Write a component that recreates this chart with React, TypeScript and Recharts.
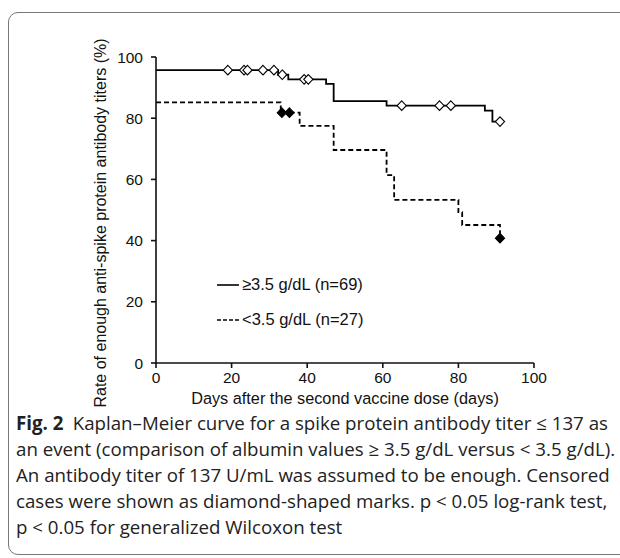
import React from 'react';
import { ComposedChart, Line, Scatter, XAxis, YAxis } from 'recharts';

// Kaplan–Meier step points (day, % with enough titer)
const highDays = [0, 32.3, 35, 45, 47, 61, 87, 89, 91];
const highRates = [95.7, 94.2, 92.7, 91.2, 85.6, 84.1, 82.5, 78.9, 78.9];
const lowDays = [0, 33, 38, 47, 61, 63, 80, 81, 91];
const lowRates = [85.2, 81.8, 77.5, 69.6, 61.4, 53.3, 49.3, 45.1, 40.8];

// censored cases (diamonds)
const highCensorDays = [19, 23.3, 24.2, 28.3, 31.2, 33.4, 39.2, 40.3, 65, 75, 78, 91];
const highCensorRates = [95.7, 95.7, 95.7, 95.7, 95.7, 94.2, 92.7, 92.7, 84.1, 84.1, 84.1, 78.9];
const lowCensorDays = [33.3, 35.3, 91];
const lowCensorRates = [81.8, 81.8, 40.8];

const xTicks = [0, 20, 40, 60, 80, 100];
const yTicks = [0, 20, 40, 60, 80, 100];
const legendLabels = ['\u22653.5 g/dL (n=69)', '<3.5 g/dL (n=27)'];
const xTitle = 'Days after the second vaccine dose (days)';
const yTitle = 'Rate of enough anti-spike protein antibody titers (%)';
const captionLines = [
  ['Fig. 2', '\u2002Kaplan\u2013Meier curve for a spike protein antibody titer \u2264 137 as'],
  ['', 'an event (comparison of albumin values \u2265 3.5 g/dL versus < 3.5 g/dL).'],
  ['', 'An antibody titer of 137 U/mL was assumed to be enough. Censored'],
  ['', 'cases were shown as diamond-shaped marks. p < 0.05 log-rank test,'],
  ['', 'p < 0.05 for generalized Wilcoxon test'],
];

const toRows = (d: number[], v: number[]) => d.map((day, i) => ({ day, v: v[i] }));
const highData = toRows(highDays, highRates);
const lowData = toRows(lowDays, lowRates);
const highCensor = toRows(highCensorDays, highCensorRates);
const lowCensor = toRows(lowCensorDays, lowCensorRates);

const FONT = '"Liberation Sans", Arial, sans-serif';

const Diamond = (filled: boolean) => (props: any) => {
  const { cx, cy } = props;
  if (cx == null || cy == null) return null;
  const w = 4.6, h = 4.8;
  return (
    <polygon
      points={`${cx},${cy - h} ${cx + w},${cy} ${cx},${cy + h} ${cx - w},${cy}`}
      fill={filled ? '#000' : '#fff'}
      stroke="#000"
      strokeWidth={1.1}
    />
  );
};

export default function App() {
  return (
    <div style={{ position: 'fixed', left: 0, top: 0, width: 620, height: 558, overflow: 'hidden', background: '#fff' }}>
      <div style={{ position: 'absolute', left: 8, top: 12, width: 640, height: 541, border: '1px solid #777', borderRadius: 10 }} />
      <div style={{ position: 'absolute', left: 0, top: 0 }}>
        <ComposedChart width={620} height={420} margin={{ top: 57, right: 86, bottom: 27, left: 96 }}>
          <XAxis
            type="number"
            dataKey="day"
            domain={[0, 100]}
            ticks={xTicks}
            allowDuplicatedCategory={false}
            stroke="#111"
            strokeWidth={1.6}
            tickSize={5}
            tickMargin={4}
            tick={{ fill: '#111', fontSize: 15.5, fontFamily: FONT }}
            height={30}
            label={{
              content: (p: any) => {
                const vb = p.viewBox;
                return (
                  <text x={vb.x + vb.width / 2} y={404} textAnchor="middle" fontFamily={FONT} fontSize={16.3} fill="#111">
                    {xTitle}
                  </text>
                );
              },
            }}
          />
          <YAxis
            type="number"
            dataKey="v"
            domain={[0, 100]}
            ticks={yTicks}
            stroke="#111"
            strokeWidth={1.6}
            tickSize={5}
            tickMargin={8}
            width={60}
            tick={{ fill: '#111', fontSize: 15.5, fontFamily: FONT }}
            label={{
              content: () => (
                <text x={0} y={0} transform={`translate(106, 223) rotate(-90)`} textAnchor="middle" fontFamily={FONT} fontSize={16} fill="#111">
                  {yTitle}
                </text>
              ),
            }}
          />
          <Line data={highData} dataKey="v" type="stepAfter" stroke="#000" strokeWidth={1.8} dot={false} isAnimationActive={false} legendType="none" />
          <Line data={lowData} dataKey="v" type="stepAfter" stroke="#000" strokeWidth={1.8} strokeDasharray="5 3" dot={false} isAnimationActive={false} legendType="none" />
          <Scatter data={highCensor} dataKey="v" shape={Diamond(false)} isAnimationActive={false} legendType="none" />
          <Scatter data={lowCensor} dataKey="v" shape={Diamond(true)} isAnimationActive={false} legendType="none" />
        </ComposedChart>
      </div>
      <div style={{ position: 'absolute', left: 217, top: 267, fontFamily: FONT, fontSize: 16.5, color: '#111' }}>
        {legendLabels.map((lab, i) => (
          <div key={lab} style={{ display: 'flex', alignItems: 'center', height: 35 }}>
            <svg width={24} height={10} style={{ marginRight: 1 }}>
              <line x1={0} y1={5} x2={22} y2={5} stroke="#000" strokeWidth={1.6} strokeDasharray={i === 1 ? '4 2' : undefined} />
            </svg>
            <span>{lab}</span>
          </div>
        ))}
      </div>
      <div style={{ position: 'absolute', left: 16, top: 410, fontFamily: '"Open Sans", sans-serif', fontSize: 18.7, lineHeight: '26px', color: '#222', whiteSpace: 'nowrap', letterSpacing: 0 }}>
        {captionLines.map((ln, i) => (
          <div key={i}>
            {ln[0] ? <b>{ln[0]}</b> : null}
            {ln[1]}
          </div>
        ))}
      </div>
    </div>
  );
}
